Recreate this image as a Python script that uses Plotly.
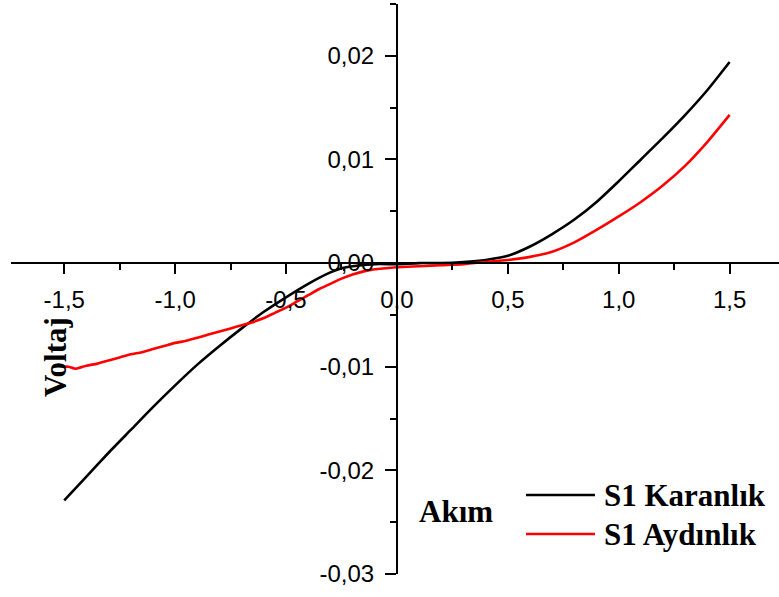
import plotly.graph_objects as go

# ---- data ----
x_dark = [-1.5, -1.4, -1.3, -1.2, -1.1, -1.0, -0.9, -0.8, -0.7, -0.6, -0.5, -0.4, -0.3, -0.25, -0.2,
          -0.1, 0.0, 0.1, 0.2, 0.3, 0.4, 0.5, 0.6, 0.7, 0.8, 0.9, 1.0, 1.1, 1.2, 1.3, 1.4, 1.5]
y_dark = [-0.0229, -0.0206, -0.0183, -0.0161, -0.0139, -0.0118, -0.0098, -0.0080, -0.0063, -0.0047,
          -0.0033, -0.0020, -0.0009, -0.0005, -0.0003, -0.0001, -0.0001, 0.0000, 0.0000, 0.0001,
          0.0003, 0.0007, 0.0016, 0.0028, 0.0042, 0.0059, 0.0079, 0.0100, 0.0121, 0.0143, 0.0167, 0.0194]

x_light = [-1.5, -1.48, -1.45, -1.4, -1.35, -1.3, -1.25, -1.2, -1.15, -1.1, -1.05, -1.0, -0.95, -0.9,
           -0.85, -0.8, -0.75, -0.7, -0.65, -0.6, -0.55, -0.5, -0.45, -0.4, -0.35, -0.3, -0.25, -0.2,
           -0.15, -0.1, -0.05, 0.0, 0.1, 0.2, 0.3, 0.4, 0.5, 0.6, 0.7, 0.8, 0.9, 1.0, 1.1, 1.2, 1.3,
           1.4, 1.5]
y_light = [-0.0100, -0.0100, -0.0102, -0.0099, -0.0097, -0.0094, -0.0091, -0.0088, -0.0086, -0.0083,
           -0.0080, -0.0077, -0.0075, -0.0072, -0.0069, -0.0066, -0.0063, -0.0060, -0.0057, -0.0053,
           -0.0048, -0.0043, -0.0037, -0.0031, -0.0025, -0.0020, -0.0015, -0.0011, -0.0008, -0.0006,
           -0.0005, -0.0004, -0.0003, -0.0002, -0.0001, 0.0001, 0.0003, 0.0006, 0.0011, 0.0020,
           0.0032, 0.0045, 0.0059, 0.0075, 0.0094, 0.0117, 0.0143]

series_names = ["S1 Karanlık", "S1 Aydınlık"]
series_colors = ["#000000", "#ff0000"]

x_tickvals = [-1.5, -1.0, -0.5, 0.0, 0.5, 1.0, 1.5]
x_ticktext = ["-1,5", "-1,0", "-0,5", "0,0", "0,5", "1,0", "1,5"]
y_tickvals = [-0.03, -0.02, -0.01, 0.0, 0.01, 0.02]
y_ticktext = ["-0,03", "-0,02", "-0,01", "0,00", "0,01", "0,02"]

x_title = "Akım"
y_title = "Voltaj"

X_RANGE = [-1.74, 1.7226]
Y_RANGE = [-0.03, 0.025]

fig = go.Figure()
for xs, ys, name, col in [(x_dark, y_dark, series_names[0], series_colors[0]),
                          (x_light, y_light, series_names[1], series_colors[1])]:
    fig.add_trace(go.Scatter(x=xs, y=ys, mode="lines", name=name,
                             line=dict(color=col, width=2.6, shape="spline", smoothing=0.6),
                             showlegend=False))

tick_font = dict(family="Liberation Sans, Arial", size=24, color="#000")
x_pos = (0 - Y_RANGE[0]) / (Y_RANGE[1] - Y_RANGE[0])
y_pos = (0 - X_RANGE[0]) / (X_RANGE[1] - X_RANGE[0])

fig.update_layout(
    width=779, height=597,
    margin=dict(l=11, r=0, t=4, b=23),
    paper_bgcolor="white", plot_bgcolor="white",
    xaxis=dict(range=X_RANGE, anchor="free", position=x_pos, showline=True, linecolor="#000",
               linewidth=2, showgrid=False, zeroline=False, ticks="outside", ticklen=10,
               tickwidth=2, tickcolor="#000", tickvals=x_tickvals, ticktext=x_ticktext,
               tickfont=tick_font, ticklabelstandoff=5,
               minor=dict(ticks="outside", ticklen=6, tickwidth=2, tickcolor="#000",
                          dtick=0.25, tick0=0, showgrid=False),
               automargin=False),
    yaxis=dict(range=Y_RANGE, anchor="free", position=y_pos, showline=True, linecolor="#000",
               linewidth=2, showgrid=False, zeroline=False, ticks="outside", ticklen=11,
               tickwidth=2, tickcolor="#000", tickvals=y_tickvals, ticktext=y_ticktext,
               tickfont=tick_font, ticklabelstandoff=6,
               minor=dict(ticks="outside", ticklen=6, tickwidth=2, tickcolor="#000",
                          dtick=0.005, tick0=0, showgrid=False),
               automargin=False),
    showlegend=False,
)

title_font = dict(family="Liberation Serif, Times New Roman", size=31, color="#000")
# axis titles
fig.add_annotation(text="<b>%s</b>" % x_title, xref="paper", yref="paper",
                   x=(456 - 11) / 768, y=(574 - 511) / 570, xanchor="center", yanchor="middle",
                   showarrow=False, font=title_font)
fig.add_annotation(text="<b>%s</b>" % y_title, xref="paper", yref="paper",
                   x=(56 - 11) / 768, y=(574 - 357) / 570, xanchor="center", yanchor="middle",
                   textangle=-90, showarrow=False, font=title_font)

# legend (manual)
leg_rows = [495, 534]
for (row_y, name, col) in zip(leg_rows, series_names, series_colors):
    yp = (574 - row_y) / 570
    fig.add_shape(type="line", xref="paper", yref="paper",
                  x0=(526 - 11) / 768, x1=(595 - 11) / 768, y0=yp, y1=yp,
                  line=dict(color=col, width=2.6))
    fig.add_annotation(text="<b>%s</b>" % name, xref="paper", yref="paper",
                       x=(602 - 11) / 768, y=yp, xanchor="left", yanchor="middle",
                       showarrow=False, font=title_font)

fig.write_html("out.html", config={"displayModeBar": False},
               post_script="document.body.style.margin='0';")
